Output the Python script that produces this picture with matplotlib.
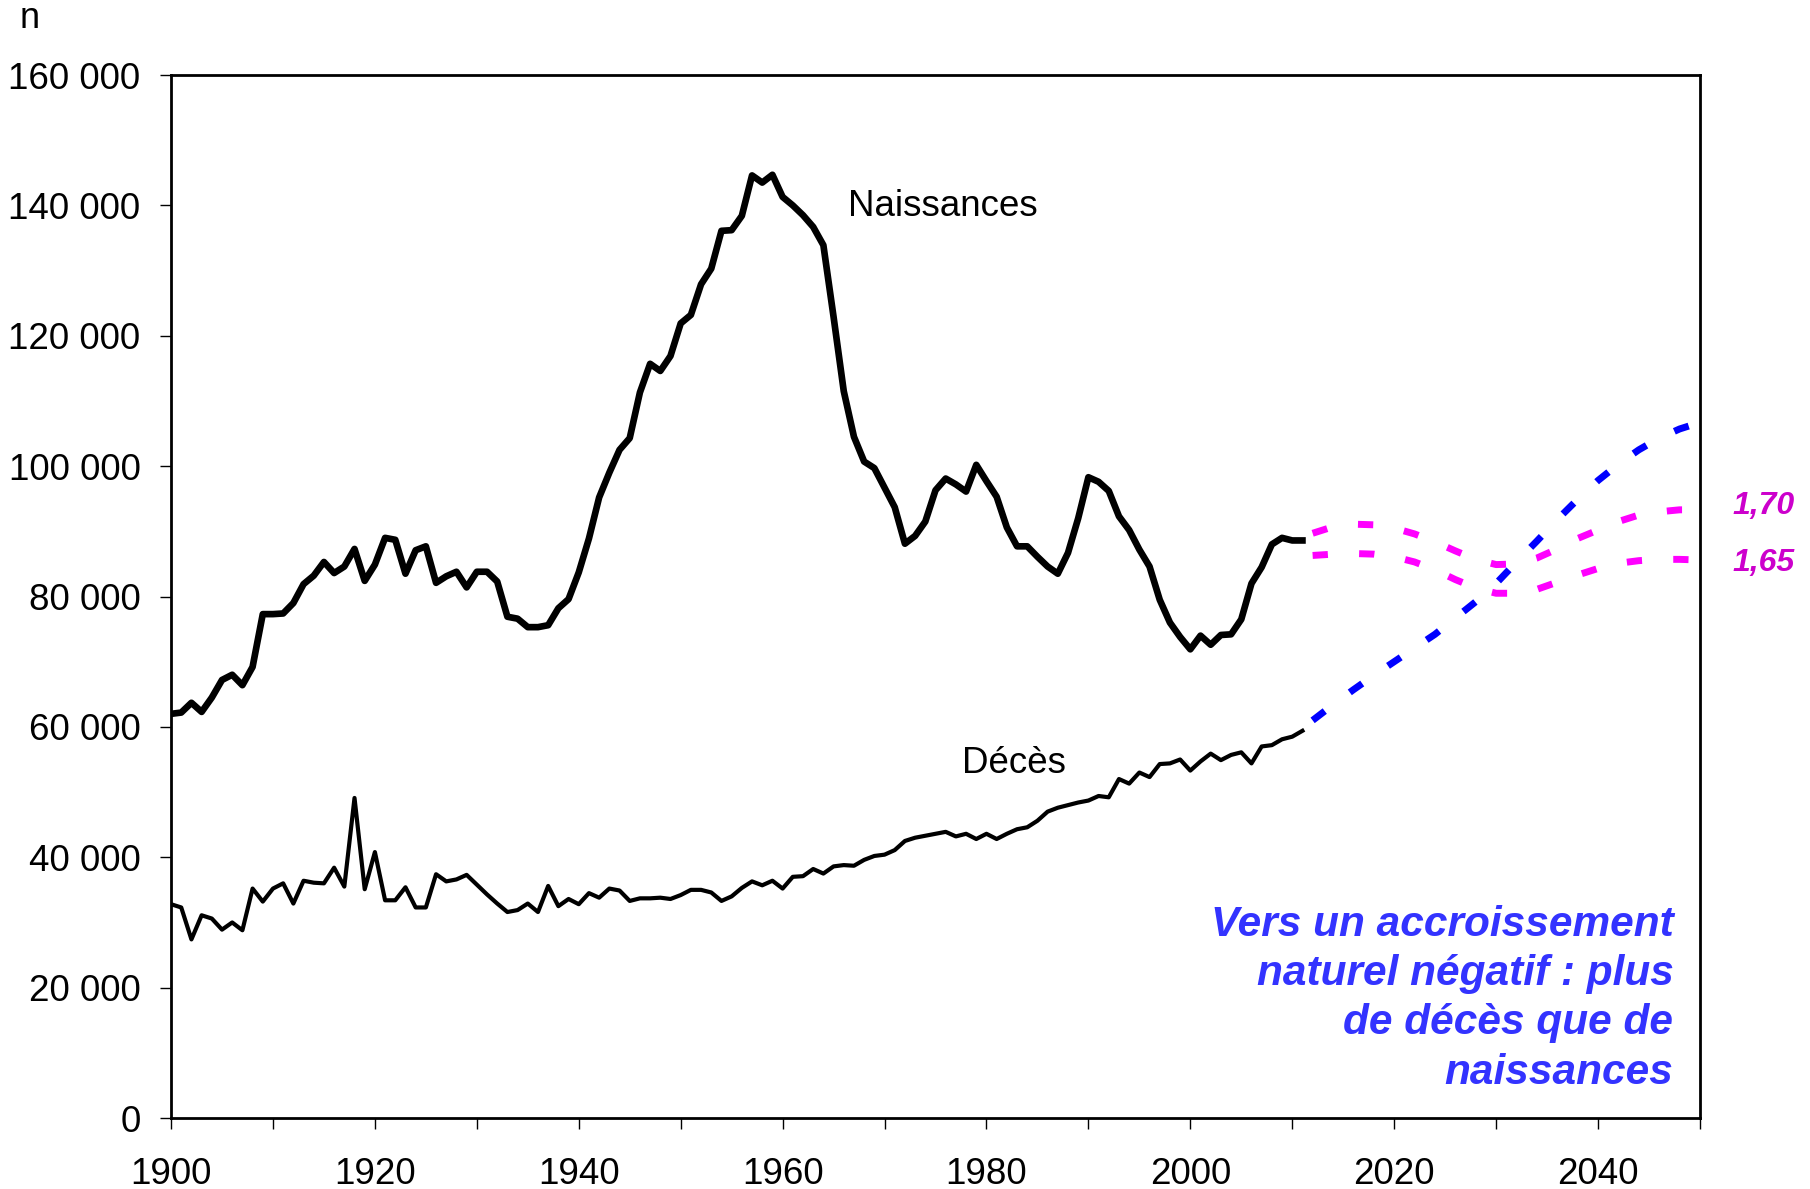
import matplotlib
matplotlib.use("Agg")
import matplotlib.pyplot as plt
from matplotlib.ticker import FuncFormatter

plt.rcParams['font.family'] = ['Liberation Sans', 'DejaVu Sans']

# observed series, 1900-2011
years = list(range(1900, 2012))
naissances = [
    62000, 62200, 63700, 62300, 64500, 67200, 68000, 66400, 69200, 77300,
    77300, 77400, 79000, 81900, 83200, 85300, 83600, 84600, 87300, 82400,
    84900, 89000, 88700, 83500, 87100, 87700, 82100, 83100, 83800, 81400,
    83800, 83800, 82300, 76900, 76600, 75300, 75300, 75600, 78200, 79600,
    83700, 88900, 95200, 99000, 102500, 104300, 111300, 115700, 114600, 116900,
    121900, 123200, 127900, 130300, 136100, 136200, 138400, 144600, 143500, 144700,
    141300, 140000, 138500, 136700, 133900, 122900, 111500, 104500, 100700, 99700,
    96700, 93700, 88100, 89300, 91500, 96300, 98100, 97200, 96100, 100200,
    97700, 95300, 90600, 87700, 87700, 86100, 84600, 83500, 86700, 92000,
    98300, 97600, 96200, 92300, 90200, 87200, 84600, 79500, 76000, 73800,
    71900, 74000, 72600, 74100, 74200, 76500, 82000, 84500, 88000, 89000,
    88600, 88600,
]
deces = [
    32800, 32300, 27400, 31100, 30600, 28900, 30000, 28800, 35200, 33200,
    35200, 36000, 32900, 36400, 36100, 36000, 38400, 35500, 49100, 35100,
    40800, 33400, 33400, 35400, 32300, 32300, 37400, 36300, 36600, 37300,
    35800, 34300, 32900, 31600, 31900, 32900, 31600, 35600, 32500, 33600,
    32800, 34500, 33800, 35200, 34900, 33300, 33700, 33700, 33800, 33600,
    34200, 35000, 35000, 34600, 33300, 34000, 35300, 36300, 35700, 36400,
    35200, 37000, 37100, 38200, 37500, 38600, 38800, 38700, 39600, 40200,
    40400, 41100, 42500, 43000, 43300, 43600, 43900, 43200, 43600, 42800,
    43600, 42800, 43600, 44300, 44600, 45600, 47000, 47600, 48000, 48400,
    48700, 49400, 49200, 52000, 51300, 53000, 52300, 54300, 54400, 55000,
    53300, 54700, 55900, 54900, 55700, 56100, 54400, 57000, 57200, 58100,
    58500, 59400,
]

# projections 2012-2050
proj_years = list(range(2012, 2051, 2))
proj_deces = [
    61000, 63400, 65700, 67900, 70000, 72100, 74200, 76700, 79200, 82000,
    85300, 88500, 91800, 94900, 97800, 100300, 102500, 104300, 105700, 106700,
]
proj_naiss_170 = [
    89700, 90700, 91100, 91000, 90500, 89600, 88400, 87000, 85700, 84900,
    85000, 85900, 87300, 88900, 90200, 91500, 92500, 93000, 93300, 93300,
]
proj_naiss_165 = [
    86300, 86500, 86600, 86500, 86100, 85300, 84100, 82600, 81300, 80500,
    80500, 81100, 82200, 83300, 84300, 85100, 85500, 85700, 85700, 85600,
]

fig = plt.figure(figsize=(18.1, 11.89), dpi=100)
ax = fig.add_axes([0.0945, 0.0597, 0.8447, 0.8772])

ax.plot(years, naissances, color='black', lw=4.8)
ax.plot(years, deces, color='black', lw=3.0)

dash = (0, (2.2, 4.5))
ax.plot(proj_years, proj_naiss_170, color='#FF00FF', lw=5, ls=dash, dash_capstyle='butt')
ax.plot(proj_years, proj_naiss_165, color='#FF00FF', lw=5, ls=dash, dash_capstyle='butt')
ax.plot(proj_years, proj_deces, color='#0000FF', lw=5, ls=dash, dash_capstyle='butt')

ax.set_xlim(1900, 2050)
ax.set_ylim(0, 160000)

xt = list(range(1900, 2051, 10))
ax.set_xticks(xt)
ax.set_xticklabels([str(y) if y % 20 == 0 and y < 2050 else '' for y in xt])
ax.set_yticks(range(0, 160001, 20000))
ax.yaxis.set_major_formatter(FuncFormatter(lambda v, p: f"{int(v):,}".replace(",", " ")))

ax.tick_params(axis='both', labelsize=26.5, length=8, width=1, direction='out')
ax.tick_params(axis='x', pad=20)
ax.tick_params(axis='y', pad=14)
for s in ax.spines.values():
    s.set_linewidth(2)

ax.text(1966.4, 138400, 'Naissances', fontsize=26.5, va='baseline')
ax.text(1977.6, 52900, 'Décès', fontsize=26.5, va='baseline')

ax.text(2053.2, 93900, '1,70', fontsize=23, color='#CC00CC',
        fontweight='bold', fontstyle='italic', va='center', clip_on=False)
ax.text(2053.2, 85100, '1,65', fontsize=23, color='#CC00CC',
        fontweight='bold', fontstyle='italic', va='center', clip_on=False)

ax.text(2047.4, 3900,
        "Vers un accroissement\nnaturel négatif : plus\nde décès que de\nnaissances",
        fontsize=30.5, color='#3333FF', fontweight='bold', fontstyle='italic',
        ha='right', va='bottom', multialignment='right', linespacing=1.3)

fig.text(0.011, 0.9764, 'n', fontsize=26, va='baseline')

fig.savefig('out.png', dpi=100)
